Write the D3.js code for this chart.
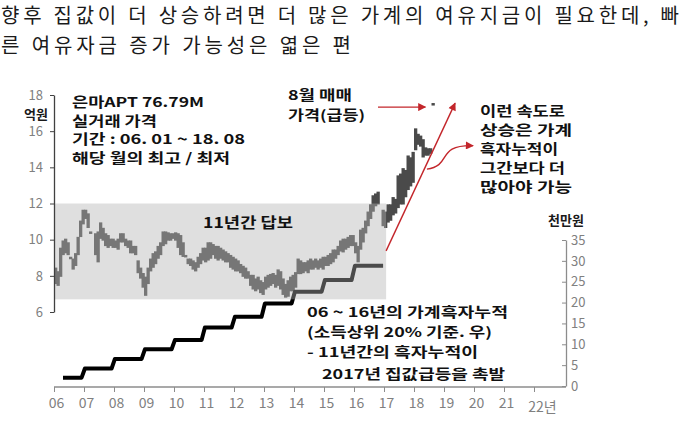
<!DOCTYPE html>
<html><head><meta charset="utf-8">
<script src="https://cdn.jsdelivr.net/npm/d3@7"></script>
<style>body{margin:0;background:#fff} svg{display:block}</style>
</head><body><svg id="c" width="680" height="429"></svg>
<script>
// ---------------- DATA ----------------
const titleLines = [
  "향후 집값이 더 상승하려면 더 많은 가계의 여유지금이 필요한데, 빠",
  "른 여유자금 증가 가능성은 엷은 편"
];
const priceStartYear = 2006; // monthly from 2006.01 to 2018.08
const priceLow = [
  7.6, 7.5, 8.0, 9.2, 9.3, 9.2, 9.0, 8.4, 8.6, 9.2, 10.2, 10.9,
  11.2, 10.7, 10.4, null, 9.2, 8.8, 10.1, 10.0, 9.7, 9.6, 9.7, 9.6,
  9.6, 9.5, 9.9, 9.9, 9.7, 9.6, 9.3, 9.3, 9.2, 8.2, 7.9, 7.4,
  6.95, 7.6, 8.3, 8.5, 8.7, 9.0, 9.2, 9.7, 9.8, 10.0, 10.0, 10.1,
  10.0, 9.6, 9.2, 9.1, 9.1, 8.7, 8.6, 8.4, 8.3, 8.5, 8.7, 8.9,
  8.8, 8.9, 9.0, 9.2, 9.0, 8.9, 9.0, 8.9, 8.8, 8.8, 8.5, 8.4,
  8.3, 8.3, 8.2, 8.0, 7.9, 7.9, 7.5, 7.3, 7.2, 7.3, 7.1, 7.0,
  7.3, 7.4, 7.5, 7.6, 7.4, 7.5, 7.3, 7.0, 6.85, 6.9, 7.2, 7.2,
  7.4, 8.15, 8.15, 8.2, 8.3, 8.2, 8.4, 8.4, 8.5, 8.4, 8.5, 8.4,
  8.6, 8.6, 8.7, 8.8, 9.0, 9.2, 9.4, 9.35, 9.5, 9.6, 9.7, 9.7,
  9.3, 8.8, 9.5, 9.9, 10.4, 10.8, 11.2, 11.6, 11.9, 12.0, null, 10.8,
  10.7, 11.0, 11.1, 11.4, 11.5, 11.8, 12.0, 12.0, 12.4, 12.8, 13.0, 13.2,
  15.0, 15.3, 15.2, 14.6, 14.7, 14.7, 14.8, 17.5
];
const priceHigh = [
  8.4, 8.2, 9.5, 9.9, 10.0, 9.8, 9.0, 8.9, 9.2, 10.1, 11.0, 11.6,
  11.6, 11.4, 10.4, null, 10.3, 10.4, 10.9, 10.6, 10.3, 10.2, 10.0, 10.0,
  9.9, 10.0, 10.3, 10.3, 10.0, 9.9, 9.9, 9.6, 9.6, 8.8, 8.4, 8.1,
  7.9, 8.4, 8.9, 9.2, 9.3, 9.6, 9.8, 10.4, 10.4, 10.35, 10.3, 10.3,
  10.35, 10.3, 10.2, 9.8, 9.1, 8.9, 8.9, 8.8, 8.7, 9.0, 9.2, 9.5,
  9.5, 9.8, 9.8, 9.7, 9.6, 9.6, 9.5, 9.4, 9.3, 9.2, 9.1, 9.0,
  8.9, 8.8, 8.6, 8.5, 8.4, 8.2, 8.0, 8.0, 7.8, 7.9, 7.7, 7.6,
  7.9, 8.0, 8.05, 8.1, 8.0, 8.3, 8.2, 7.8, 7.5, 7.7, 7.9, 8.0,
  8.15, 8.9, 8.8, 8.7, 8.7, 8.8, 8.9, 8.8, 8.9, 8.8, 8.9, 9.0,
  9.0, 9.1, 9.2, 9.4, 9.4, 9.6, 9.9, 10.0, 10.0, 10.1, 10.2, 10.2,
  9.8, 9.6, 10.5, 10.6, 11.0, 11.5, 11.9, 12.4, 12.5, 12.6, null, 11.6,
  11.5, 11.9, 11.9, 12.3, 12.2, 13.5, 13.6, 13.9, 13.8, 14.6, 14.5, 14.8,
  16.1, 15.8, 15.7, 15.5, 15.05, 15.0, 15.0, 17.5
];
const surplusYears = [2006, 2007, 2008, 2009, 2010, 2011, 2012, 2013, 2014, 2015, 2016];
const surplusValues = [2.0, 4.2, 6.5, 8.8, 11.0, 14.0, 16.6, 19.8, 22.6, 25.4, 28.8];
const leftTicks = [6, 8, 10, 12, 14, 16, 18];
const rightTicks = [0, 5, 10, 15, 20, 25, 30, 35];
const xTickYears = [2006, 2007, 2008, 2009, 2010, 2011, 2012, 2013, 2014, 2015, 2016, 2017, 2018, 2019, 2020, 2021, 2022];
const xTickLabels = ["06", "07", "08", "09", "10", "11", "12", "13", "14", "15", "16", "17", "18", "19", "20", "21", "22년"];
const stagnantBox = {x0: 2006, x1: 2017.07, y0: 6.7, y1: 12};

// ---------------- SCALES ----------------
const svg = d3.select("#c");
const FONT = "'Noto Sans CJK KR', 'Noto Sans', sans-serif";
const x = d3.scaleLinear().domain([2006, 2023]).range([54, 564]);
const yL = d3.scaleLinear().domain([6, 18]).range([312, 95]);
const yR = d3.scaleLinear().domain([0, 35]).range([386, 240]);

// defs
const defs = svg.append("defs");
defs.append("marker").attr("id", "ah").attr("viewBox", "0 0 10 10")
  .attr("refX", 9).attr("refY", 5).attr("markerWidth", 10).attr("markerHeight", 8)
  .attr("markerUnits", "userSpaceOnUse").attr("orient", "auto")
  .append("path").attr("d", "M0,0 L10,5 L0,10 z").attr("fill", "#c3262b");

// ---------------- TITLE ----------------
const tl = [{y: 23, w: 678}, {y: 53, w: 350}];
titleLines.forEach((t, i) => {
  svg.append("text").attr("x", 1).attr("y", tl[i].y).text(t)
    .attr("font-family", FONT).attr("font-size", 20).attr("fill", "#1a1a1a")
    .attr("textLength", tl[i].w).attr("lengthAdjust", "spacing");
});

// ---------------- PRICE BARS ----------------
const monthW = x(2006 + 1 / 12) - x(2006);
const months = priceLow.map((lo, i) => ({i, lo, hi: priceHigh[i]})).filter(d => d.lo != null);
svg.append("g").selectAll("rect").data(months).enter().append("rect")
  .attr("x", d => x(priceStartYear + d.i / 12))
  .attr("width", monthW + 0.8)
  .attr("y", d => yL(d.hi) - 1)
  .attr("height", d => Math.max(yL(d.lo) - yL(d.hi) + 2, 2.5))
  .attr("fill", "#4a4a4a");

// ---------------- SURPLUS STEP LINE ----------------
const stepPts = [[surplusYears[0] + 0.3, surplusValues[0]]];
for (let k = 1; k < surplusYears.length; k++) {
  stepPts.push([surplusYears[k] - 0.08, surplusValues[k - 1]]);
  stepPts.push([surplusYears[k] + 0.03, surplusValues[k]]);
}
stepPts.push([surplusYears[surplusYears.length - 1] + 0.97, surplusValues[surplusValues.length - 1]]);
svg.append("path").attr("d", d3.line().x(d => x(d[0])).y(d => yR(d[1]))(stepPts))
  .attr("fill", "none").attr("stroke", "#000").attr("stroke-width", 4)
  .attr("stroke-linejoin", "round");

// ---------------- STAGNANT BOX (overlay) ----------------
svg.append("rect")
  .attr("x", x(stagnantBox.x0)).attr("width", x(stagnantBox.x1) - x(stagnantBox.x0))
  .attr("y", yL(stagnantBox.y1)).attr("height", yL(stagnantBox.y0) - yL(stagnantBox.y1))
  .attr("fill", "#b2b2b2").attr("fill-opacity", 0.42);

// ---------------- AXES ----------------
const gL = svg.append("g").attr("transform", `translate(${x(2006)},0)`)
  .call(d3.axisLeft(yL).tickValues(leftTicks).tickSize(4).tickSizeOuter(0).tickPadding(7));
gL.select(".domain").attr("stroke", "#404040").attr("stroke-width", 1.3);
gL.selectAll(".tick line").attr("stroke", "#404040");
gL.selectAll(".tick text").attr("font-family", FONT).attr("font-size", 13).attr("fill", "#808080");

const gB = svg.append("g").attr("transform", `translate(0,${yR(0) + 1})`)
  .call(d3.axisBottom(x).tickValues(xTickYears).tickSize(5).tickSizeOuter(0).tickPadding(6)
    .tickFormat((d, i) => xTickLabels[i]));
gB.select(".domain").attr("stroke", "#8c8c8c").attr("stroke-width", 1.3)
  .attr("d", `M${x(2006)},0H${x(2023) + 2}`);
gB.selectAll(".tick line").attr("stroke", "#8c8c8c");
gB.selectAll(".tick text").attr("font-family", FONT).attr("font-size", 14).attr("fill", "#808080")
  .attr("dx", 2);
gB.selectAll(".tick text").filter((d) => d === 2022).attr("dx", 8).attr("dy", "1.0em");

const gR = svg.append("g").attr("transform", `translate(${x(2023) + 2},0)`)
  .call(d3.axisRight(yR).tickValues(rightTicks).tickSize(-4).tickSizeOuter(0).tickPadding(5));
gR.select(".domain").attr("stroke", "#8c8c8c").attr("stroke-width", 1.3);
gR.selectAll(".tick line").attr("stroke", "#8c8c8c");
gR.selectAll(".tick text").attr("font-family", FONT).attr("font-size", 13).attr("fill", "#808080");

// axis unit labels
svg.append("text").attr("x", 24).attr("y", 118.5).text("억원")
  .attr("font-family", FONT).attr("font-size", 13).attr("font-weight", 700).attr("fill", "#1a1a1a");
svg.append("text").attr("x", 548).attr("y", 224.5).text("천만원")
  .attr("font-family", FONT).attr("font-size", 13).attr("font-weight", 700).attr("fill", "#1a1a1a");

// ---------------- RED ARROWS ----------------
const red = "#c3262b";
svg.append("line")
  .attr("x1", x(2017.07)).attr("y1", yL(9.38)).attr("x2", x(2019.37)).attr("y2", yL(17.55))
  .attr("stroke", red).attr("stroke-width", 1.4).attr("marker-end", "url(#ah)");
svg.append("line")
  .attr("x1", x(2016.8)).attr("y1", yL(17.33)).attr("x2", x(2018.38)).attr("y2", yL(17.33))
  .attr("stroke", red).attr("stroke-width", 1.4).attr("marker-end", "url(#ah)");
const cp = d3.path();
cp.moveTo(x(2018.43), yL(13.9));
cp.bezierCurveTo(x(2019.3), yL(14.1), x(2018.7), yL(15.25), x(2019.97), yL(15.2));
svg.append("path").attr("d", cp.toString()).attr("fill", "none")
  .attr("stroke", red).attr("stroke-width", 1.4).attr("marker-end", "url(#ah)");

// ---------------- ANNOTATIONS ----------------
const notes = [
  {x: 72, y: 107, t: "은마APT  76.79M", w: 132},
  {x: 72, y: 125.5, t: "실거래 가격", w: 85},
  {x: 72, y: 144, t: "기간 : 06. 01 ~ 18. 08", w: 173},
  {x: 72, y: 162.5, t: "해당 월의 최고 / 최저", w: 158},
  {x: 203, y: 228, t: "11년간 답보", w: 90, s: 15},
  {x: 288, y: 100, t: "8월 매매", w: 64},
  {x: 288, y: 120, t: "가격(급등)", w: 77},
  {x: 480, y: 116, t: "이런 속도로", w: 85},
  {x: 480, y: 135, t: "상승은  가계", w: 92},
  {x: 480, y: 154, t: "흑자누적이", w: 78},
  {x: 480, y: 173, t: "그간보다 더", w: 85},
  {x: 480, y: 192, t: "많아야  가능", w: 92},
  {x: 307, y: 317, t: "06 ~ 16년의  가계흑자누적", w: 201},
  {x: 307, y: 337, t: "(소득상위 20% 기준. 우)", w: 185},
  {x: 307, y: 357, t: "- 11년간의 흑자누적이", w: 171},
  {x: 322, y: 379, t: "2017년 집값급등을 촉발", w: 183}
];
svg.append("g").selectAll("text").data(notes).enter().append("text")
  .attr("x", d => d.x).attr("y", d => d.y).text(d => d.t)
  .attr("font-family", FONT).attr("font-size", d => d.s || 13.5).attr("font-weight", 700)
  .attr("fill", "#111")
  .attr("textLength", d => d.w).attr("lengthAdjust", "spacingAndGlyphs");
</script></body></html>
